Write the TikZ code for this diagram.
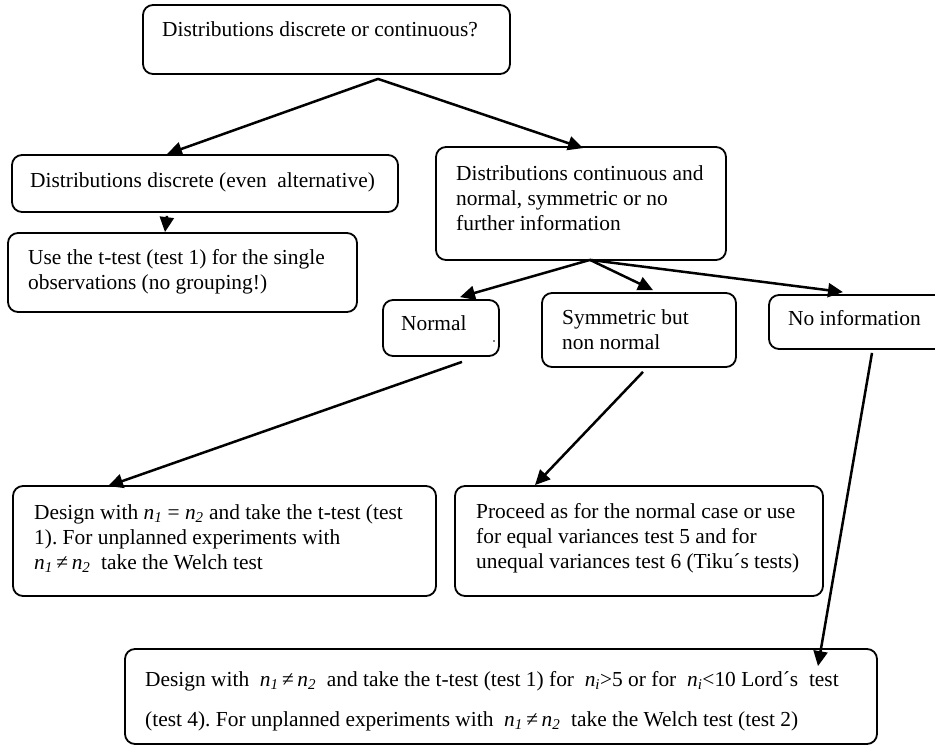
\documentclass[tikz,border=0pt]{standalone}
\usepackage{fontspec}
\setmainfont{Liberation Serif}
\usetikzlibrary{arrows.meta}
\newcommand{\nsub}[1]{\textit{n}\textsubscript{\textit{#1}}}
\frenchspacing
\begin{document}
\begin{tikzpicture}[x=1pt,y=-1pt,
  box/.style={draw, line width=1.8pt, rounded corners=10pt, inner sep=0pt, fill=none},
  txt/.style={anchor=north west, inner sep=0pt, align=left, font=\fontsize{21.4}{25}\selectfont},
  txtwide/.style={anchor=north west, inner sep=0pt, align=left, font=\fontsize{21.4}{40}\selectfont},
  arr/.style={line width=2.5pt, -{Triangle[length=15pt,width=14pt]}}]
\clip (0,0) rectangle (935,751);
\fill[white] (0,0) rectangle (935,751);
% boxes
\node[box, minimum width=367pt, minimum height=69pt]  (A) at (326.5,39.5) {};
\node[box, minimum width=386pt, minimum height=57pt]  (B) at (205,183.5) {};
\node[box, minimum width=349pt, minimum height=79pt]  (C) at (182.5,272.5) {};
\node[box, minimum width=290pt, minimum height=113pt] (D) at (581,203.5) {};
\node[box, minimum width=116pt, minimum height=56pt]  (N) at (441,328) {};
\node[box, minimum width=194pt, minimum height=74pt]  (S) at (639,330) {};
\node[box, minimum width=176pt, minimum height=54pt]  (I) at (857,322) {};
\node[box, minimum width=423pt, minimum height=110pt] (E) at (224.5,541) {};
\node[box, minimum width=368pt, minimum height=110pt] (P) at (639,541) {};
\node[box, minimum width=752pt, minimum height=95pt]  (F) at (501,696.5) {};
% texts
\node[txt] (tA) at (162,18.5) {\strut Distributions discrete or continuous?};
\node[txt] (tB) at (30,169.5) {\strut Distributions discrete (even\ \ alternative)};
\node[txt] (tC) at (28,246.5) {\strut Use the t-test (test 1) for the single\\observations (no grouping!)};
\node[txt] (tD) at (456,162.5) {\strut Distributions continuous and\\normal, symmetric or no\\further information};
\node[txt] (tN) at (401,312.5) {\strut Normal};
\fill (494,341) circle (0.9pt);
\node[txt] (tS) at (562,306.5) {\strut Symmetric but\\non normal};
\node[txt] (tI) at (788,307.5) {\strut No information};
\node[txt] (tE) at (34,502) {\strut Design with \nsub{1} = \nsub{2} and take the t-test (test\\1). For unplanned experiments with\\\nsub{1}\,≠\,\nsub{2}\ \ take the Welch test};
\node[txt] (tP) at (476,500.5) {\strut Proceed as for the normal case or use\\for equal variances test 5 and for\\unequal variances test 6 (Tiku´s tests)};
\node[txtwide] (tF) at (145,658) {\strut Design with\ \ \nsub{1}\,≠\,\nsub{2}\ \ and take the t-test (test 1) for\ \ \nsub{i}>5 or for\ \ \nsub{i}<10 Lord´s\ \ test\\(test 4). For unplanned experiments with\ \ \nsub{1}\,≠\,\nsub{2}\ \ take the Welch test (test 2)};
% connectors
\draw[arr] ([shift={(51.5,4)}]A.south) -- ([shift={(-38,0)}]B.north);
\draw[arr] ([shift={(51.5,4)}]A.south) -- ([shift={(2,2)}]D.north);
\draw[arr] ([shift={(-38,3)}]B.south) -- ([shift={(-17.5,0)}]C.north);
\draw[arr] ([shift={(9,-1)}]D.south) -- ([shift={(19,-2)}]N.north);
\draw[arr] ([shift={(9,-1)}]D.south) -- ([shift={(14,-2)}]S.north);
\draw[arr] ([shift={(9,-1)}]D.south) -- ([shift={(-14,-2)}]I.north);
\draw[arr] ([shift={(21,5)}]N.south) -- ([shift={(-116.5,1)}]E.north);
\draw[arr] ([shift={(4,4)}]S.south) -- ([shift={(-104,0)}]P.north);
\draw[arr] ([shift={(15,3)}]I.south) -- ([shift={(317,18)}]F.north);
\end{tikzpicture}
\end{document}
